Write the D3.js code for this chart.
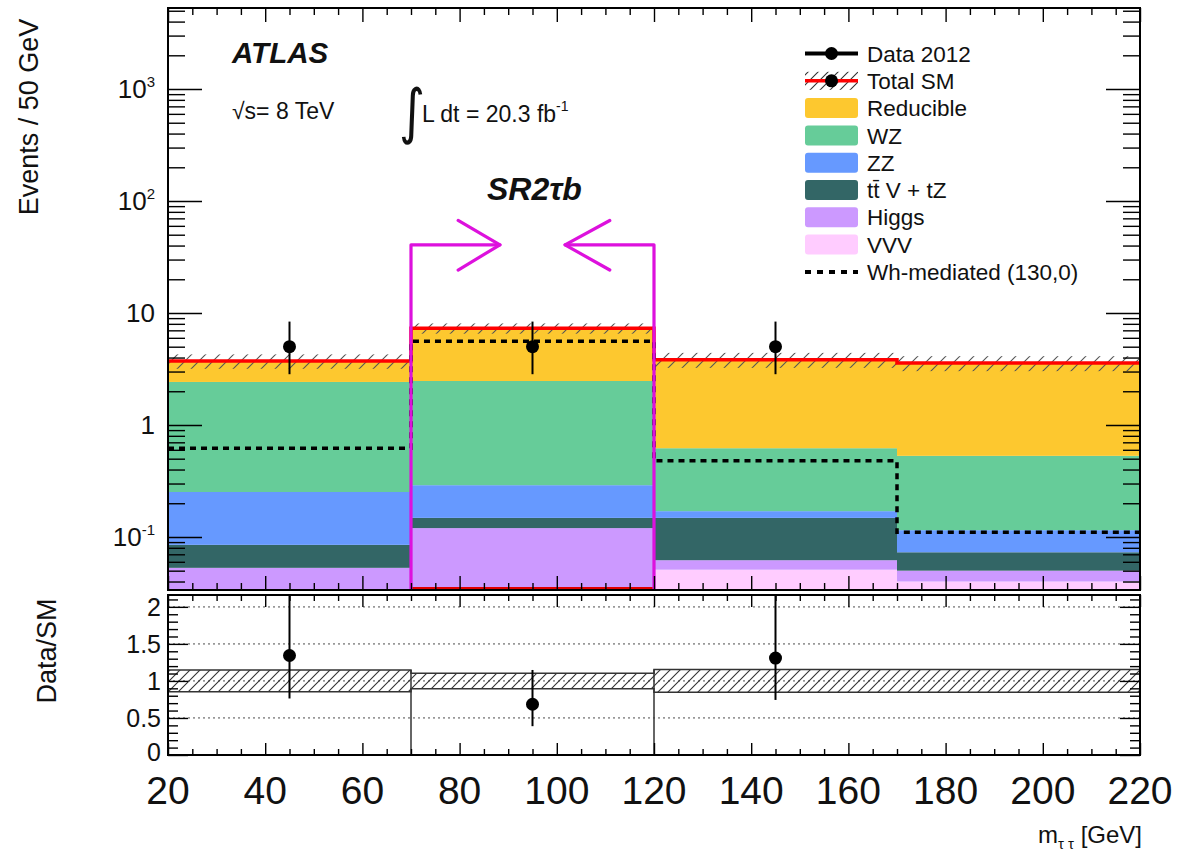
<!DOCTYPE html>
<html><head><meta charset="utf-8">
<script src="https://cdn.jsdelivr.net/npm/d3@7"></script>
<style>
body{margin:0;background:#fff}
svg{display:block}
text{font-family:"Liberation Sans",Arial,Helvetica,sans-serif;fill:#111}
</style>
</head><body><svg id="c" width="1202" height="860"></svg>
<script>
// ---------------- data ----------------
const binEdges = [20, 70, 120, 170, 220];
const sampleNames = ["VVV", "Higgs", "ttV", "ZZ", "WZ", "Reducible"]; // stacked bottom -> top
const vvv       = [0.010, 0.005, 0.051, 0.040];
const higgs     = [0.043, 0.115, 0.011, 0.010];
const ttv       = [0.032, 0.028, 0.086, 0.023];
const zz        = [0.167, 0.142, 0.022, 0.042];
const wz        = [2.17, 2.18, 0.45, 0.415];
const reducible = [1.30, 4.83, 3.20, 3.04];
const signalWh  = [0.62, 5.6, 0.48, 0.11];
const dataCounts  = [5, 5, 5, 0];
const dataErrLow  = [2.16, 2.16, 2.16, 0];
const dataErrHigh = [3.38, 3.38, 3.38, 0];
const bandRelErr  = [0.147, 0.105, 0.153, 0.153];
const xTickLabels = [20, 40, 60, 80, 100, 120, 140, 160, 180, 200, 220];
const yMainLabels = [{v:1000,b:"10",e:"3"},{v:100,b:"10",e:"2"},{v:10,b:"10",e:""},{v:1,b:"1",e:""},{v:0.1,b:"10",e:"-1"}];
const ratioLabels = [0, 0.5, 1, 1.5, 2];
const srWindow = [70, 120];
const legendNames = ["Data 2012","Total SM","Reducible","WZ","ZZ","tt\u0304 V + tZ","Higgs","VVV","Wh-mediated (130,0)"];

const colors = {VVV:"#ffccff", Higgs:"#cc99ff", ttV:"#336666", ZZ:"#6699ff", WZ:"#66cc99", Reducible:"#fdc82f"};
const sampleVals = {VVV:vvv, Higgs:higgs, ttV:ttv, ZZ:zz, WZ:wz, Reducible:reducible};

// ---------------- layout ----------------
const L = 168, R = 1140, T = 8, B = 590, RT = 595, RB = 755;
const x = d3.scaleLinear().domain([20, 220]).range([L, R]);
const y = d3.scaleLog().domain([0.0336, 5290]).range([B, T]);
const yr = d3.scaleLinear().domain([0, 2.16]).range([RB, RT]);

const svg = d3.select("#c");
const defs = svg.append("defs");
defs.append("clipPath").attr("id","clipMain").append("rect").attr("x",L).attr("y",T).attr("width",R-L).attr("height",B-T);
defs.append("clipPath").attr("id","clipRatio").append("rect").attr("x",L).attr("y",RT).attr("width",R-L).attr("height",RB-RT);
const pat = defs.append("pattern").attr("id","hatch").attr("patternUnits","userSpaceOnUse").attr("width",10).attr("height",10);
pat.append("path").attr("d","M0,10 L10,0 M-2,2 L2,-2 M8,12 L12,8").attr("stroke","#333").attr("stroke-width",1.1);
const pat2 = defs.append("pattern").attr("id","hatch2").attr("patternUnits","userSpaceOnUse").attr("width",14).attr("height",14);
pat2.append("path").attr("d","M0,14 L14,0 M-2,2 L2,-2 M12,16 L16,12").attr("stroke","#555").attr("stroke-width",1.1);

const nb = binEdges.length - 1;
const bins = d3.range(nb).map(i => ({i, x0: binEdges[i], x1: binEdges[i+1], xc: (binEdges[i]+binEdges[i+1])/2}));

// ---------------- main panel ----------------
const gMain = svg.append("g").attr("clip-path","url(#clipMain)");
const total = bins.map(b => d3.sum(sampleNames, s => sampleVals[s][b.i]));
bins.forEach(b => {
  let cum = 0;
  sampleNames.forEach(s => {
    const v = sampleVals[s][b.i];
    const lo = cum, hi = cum + v;
    cum = hi;
    const y0 = lo <= 0 ? B + 5 : y(lo);
    gMain.append("rect").attr("x", x(b.x0)).attr("width", x(b.x1) - x(b.x0))
      .attr("y", y(hi)).attr("height", Math.max(0, y0 - y(hi))).attr("fill", colors[s]);
  });
});
// uncertainty hatch band
bins.forEach(b => {
  const t = total[b.i], e = bandRelErr[b.i];
  gMain.append("rect").attr("x", x(b.x0)).attr("width", x(b.x1)-x(b.x0))
    .attr("y", y(t*(1+e))).attr("height", y(t*(1-e)) - y(t*(1+e))).attr("fill","url(#hatch2)");
});
function stepPath(vals, sc, xs) {
  const pts = [];
  bins.forEach(b => { pts.push([xs(b.x0), sc(vals[b.i])]); pts.push([xs(b.x1), sc(vals[b.i])]); });
  return d3.line()(pts);
}
gMain.append("path").attr("d", stepPath(total, y, x)).attr("fill","none").attr("stroke","#ff0000").attr("stroke-width",3.5);
gMain.append("line").attr("x1",x(srWindow[0])).attr("x2",x(srWindow[1])).attr("y1",B-1.5).attr("y2",B-1.5).attr("stroke","#e00000").attr("stroke-width",3);
gMain.append("path").attr("d", stepPath(signalWh, y, x)).attr("fill","none").attr("stroke","#000").attr("stroke-width",3.5).attr("stroke-dasharray","6,5");
const dataBins = bins.filter(b => dataCounts[b.i] > 0);
dataBins.forEach(b => {
  gMain.append("line").attr("x1",x(b.xc)).attr("x2",x(b.xc))
    .attr("y1", y(dataCounts[b.i]+dataErrHigh[b.i])).attr("y2", y(dataCounts[b.i]-dataErrLow[b.i]))
    .attr("stroke","#000").attr("stroke-width",2);
  gMain.append("circle").attr("cx",x(b.xc)).attr("cy",y(dataCounts[b.i])).attr("r",6.5).attr("fill","#000");
});
// signal region box + arrows
const mag = "#dd11dd";
const srY = 40.6, headUp = 67, headDn = 24.2;
const gSR = svg.append("g").attr("fill","none").attr("stroke",mag).attr("stroke-width",3.2).attr("stroke-linecap","round").attr("stroke-linejoin","round");
gSR.append("path").attr("d", d3.line()([[x(srWindow[0]), B-1],[x(srWindow[0]), y(srY)],[x(88.3), y(srY)]]));
gSR.append("path").attr("d", d3.line()([[x(79.7), y(headUp)],[x(88.3), y(srY)],[x(79.7), y(headDn)]]));
gSR.append("path").attr("d", d3.line()([[x(srWindow[1]), B-1],[x(srWindow[1]), y(srY)],[x(101.7), y(srY)]]));
gSR.append("path").attr("d", d3.line()([[x(110.9), y(headUp)],[x(101.7), y(srY)],[x(110.9), y(headDn)]]));

// axes main
const majorLog = [0.1, 1, 10, 100, 1000];
const minorLog = [];
[-2,-1,0,1,2,3].forEach(d => { for (let k=2;k<=9;k++){ const v=k*Math.pow(10,d); if (v>y.domain()[0] && v<y.domain()[1]) minorLog.push(v);} });
const xMinor = d3.range(25, 220, 5).filter(v => v % 20 !== 0);
const xMajor = xTickLabels;
function styleAxis(g){ g.select(".domain").remove(); g.selectAll("line").attr("stroke","#000").attr("stroke-width",1.4); g.selectAll("text").remove(); }
svg.append("g").attr("transform",`translate(${L},0)`).call(d3.axisLeft(y).tickValues(majorLog).tickSize(-34).tickFormat("")).call(styleAxis);
svg.append("g").attr("transform",`translate(${L},0)`).call(d3.axisLeft(y).tickValues(minorLog).tickSize(-17).tickFormat("")).call(styleAxis);
svg.append("g").attr("transform",`translate(${R},0)`).call(d3.axisRight(y).tickValues(majorLog).tickSize(-34).tickFormat("")).call(styleAxis);
svg.append("g").attr("transform",`translate(${R},0)`).call(d3.axisRight(y).tickValues(minorLog).tickSize(-17).tickFormat("")).call(styleAxis);
svg.append("g").attr("transform",`translate(0,${B})`).call(d3.axisBottom(x).tickValues(xMajor).tickSize(-14).tickFormat("")).call(styleAxis);
svg.append("g").attr("transform",`translate(0,${B})`).call(d3.axisBottom(x).tickValues(xMinor).tickSize(-7).tickFormat("")).call(styleAxis);
svg.append("g").attr("transform",`translate(0,${T})`).call(d3.axisTop(x).tickValues(xMajor).tickSize(-14).tickFormat("")).call(styleAxis);
svg.append("g").attr("transform",`translate(0,${T})`).call(d3.axisTop(x).tickValues(xMinor).tickSize(-7).tickFormat("")).call(styleAxis);
svg.append("rect").attr("x",L).attr("y",T).attr("width",R-L).attr("height",B-T).attr("fill","none").attr("stroke","#000").attr("stroke-width",2);

yMainLabels.forEach(d => {
  const t = svg.append("text").attr("x", 155).attr("y", y(d.v)).attr("dy","0.36em").attr("text-anchor","end").style("font-size","26px");
  t.append("tspan").text(d.b);
  if (d.e) t.append("tspan").attr("dy","-11").style("font-size","15px").text(d.e);
});
svg.append("text").attr("transform",`translate(38,117) rotate(-90)`).attr("text-anchor","middle").style("font-size","27px").text("Events / 50 GeV");

// texts
svg.append("text").attr("x",232).attr("y",63).style("font-size","29.5px").style("font-weight","bold").style("font-style","italic").text("ATLAS");
svg.append("text").attr("x",232).attr("y",119).style("font-size","23px").text("\u221As= 8 TeV");
svg.append("text").attr("transform","translate(399,132) scale(1,1.2)").style("font-size","50px").style("font-family","DejaVu Sans").text("\u222B");
const lum = svg.append("text").attr("x",422).attr("y",122).style("font-size","23px");
lum.append("tspan").text("L dt = 20.3 fb");
lum.append("tspan").attr("dy","-11").style("font-size","14px").text("-1");
svg.append("text").attr("x",487).attr("y",200).style("font-size","32px").style("font-weight","bold").style("font-style","italic").text("SR2\u03C4b");

// legend
const lg = svg.append("g");
const lx0 = 805, lx1 = 858, ly0 = 53.5, lstep = 27.3;
legendNames.forEach((name, i) => {
  const cy = ly0 + i*lstep;
  if (i === 0) {
    lg.append("line").attr("x1",lx0).attr("x2",lx1).attr("y1",cy).attr("y2",cy).attr("stroke","#000").attr("stroke-width",4);
    lg.append("circle").attr("cx",(lx0+lx1)/2).attr("cy",cy).attr("r",6.5).attr("fill","#000");
  } else if (i === 1) {
    lg.append("rect").attr("x",lx0).attr("y",cy-9).attr("width",lx1-lx0).attr("height",18).attr("fill","url(#hatch)");
    lg.append("line").attr("x1",lx0).attr("x2",lx1).attr("y1",cy).attr("y2",cy).attr("stroke","#ff0000").attr("stroke-width",3.5);
    lg.append("circle").attr("cx",(lx0+lx1)/2).attr("cy",cy).attr("r",6.5).attr("fill","#000");
  } else if (i === legendNames.length - 1) {
    lg.append("line").attr("x1",lx0).attr("x2",lx1).attr("y1",cy).attr("y2",cy).attr("stroke","#000").attr("stroke-width",4).attr("stroke-dasharray","6,6");
  } else {
    const key = sampleNames[sampleNames.length - 1 - (i-2)];
    lg.append("rect").attr("x",lx0).attr("y",cy-10).attr("width",lx1-lx0).attr("height",20).attr("rx",3).attr("fill",colors[key]);
  }
  lg.append("text").attr("x",867).attr("y",cy).attr("dy","0.36em").style("font-size","22.5px").text(name);
});

// ---------------- ratio panel ----------------
const gR = svg.append("g").attr("clip-path","url(#clipRatio)");
[0.5, 1, 1.5, 2].forEach(v => {
  gR.append("line").attr("x1",L).attr("x2",R).attr("y1",yr(v)).attr("y2",yr(v)).attr("stroke","#999").attr("stroke-width",1.8).attr("stroke-dasharray","2,3");
});
bins.forEach(b => {
  const e = bandRelErr[b.i];
  gR.append("rect").attr("x",x(b.x0)).attr("width",x(b.x1)-x(b.x0)).attr("y",yr(1+e)).attr("height",yr(1-e)-yr(1+e)).attr("fill","url(#hatch)");
});
const up = bandRelErr.map(e => 1+e), dn = bandRelErr.map(e => 1-e);
gR.append("path").attr("d", stepPath(up, yr, x)).attr("fill","none").attr("stroke","#333").attr("stroke-width",1.5);
gR.append("path").attr("d", stepPath(dn, yr, x)).attr("fill","none").attr("stroke","#333").attr("stroke-width",1.5);
srWindow.forEach(v => {
  const i = binEdges.indexOf(v);
  const top = Math.max(up[i-1], up[i]);
  gR.append("line").attr("x1",x(v)).attr("x2",x(v)).attr("y1",yr(top)).attr("y2",yr(0)).attr("stroke","#333").attr("stroke-width",1.5);
});
dataBins.forEach(b => {
  const t = total[b.i];
  gR.append("line").attr("x1",x(b.xc)).attr("x2",x(b.xc))
    .attr("y1", yr((dataCounts[b.i]+dataErrHigh[b.i])/t)).attr("y2", yr((dataCounts[b.i]-dataErrLow[b.i])/t))
    .attr("stroke","#000").attr("stroke-width",2);
  gR.append("circle").attr("cx",x(b.xc)).attr("cy",yr(dataCounts[b.i]/t)).attr("r",6.5).attr("fill","#000");
});
const rMajor = ratioLabels, rMinor = d3.range(0.1, 2.16, 0.1).filter(v => Math.abs(v*2 - Math.round(v*2)) > 1e-6);
svg.append("g").attr("transform",`translate(${L},0)`).call(d3.axisLeft(yr).tickValues(rMajor).tickSize(-20).tickFormat("")).call(styleAxis);
svg.append("g").attr("transform",`translate(${L},0)`).call(d3.axisLeft(yr).tickValues(rMinor).tickSize(-10).tickFormat("")).call(styleAxis);
svg.append("g").attr("transform",`translate(${R},0)`).call(d3.axisRight(yr).tickValues(rMajor).tickSize(-20).tickFormat("")).call(styleAxis);
svg.append("g").attr("transform",`translate(${R},0)`).call(d3.axisRight(yr).tickValues(rMinor).tickSize(-10).tickFormat("")).call(styleAxis);
svg.append("g").attr("transform",`translate(0,${RB})`).call(d3.axisBottom(x).tickValues(xMajor).tickSize(-12).tickFormat("")).call(styleAxis);
svg.append("g").attr("transform",`translate(0,${RB})`).call(d3.axisBottom(x).tickValues(xMinor).tickSize(-6).tickFormat("")).call(styleAxis);
svg.append("g").attr("transform",`translate(0,${RT})`).call(d3.axisTop(x).tickValues(xMajor).tickSize(-12).tickFormat("")).call(styleAxis);
svg.append("g").attr("transform",`translate(0,${RT})`).call(d3.axisTop(x).tickValues(xMinor).tickSize(-6).tickFormat("")).call(styleAxis);
svg.append("rect").attr("x",L).attr("y",RT).attr("width",R-L).attr("height",RB-RT).attr("fill","none").attr("stroke","#000").attr("stroke-width",2);

ratioLabels.forEach(v => {
  svg.append("text").attr("x",161).attr("y",yr(v) - (v === 0 ? 3 : 0)).attr("dy","0.36em").attr("text-anchor","end").style("font-size","25px").text(v);
});
xTickLabels.forEach(v => {
  svg.append("text").attr("x",x(v)).attr("y",804).attr("text-anchor","middle").style("font-size","39px").text(v);
});
svg.append("text").attr("transform",`translate(56,651) rotate(-90)`).attr("text-anchor","middle").style("font-size","27px").text("Data/SM");
const xt = svg.append("text").attr("x",1142).attr("y",843).attr("text-anchor","end").style("font-size","24px");
xt.append("tspan").text("m");
xt.append("tspan").attr("dy","6").style("font-size","15px").text("\u03C4 \u03C4");
xt.append("tspan").attr("dy","-6").text(" [GeV]");
</script>
</body></html>
